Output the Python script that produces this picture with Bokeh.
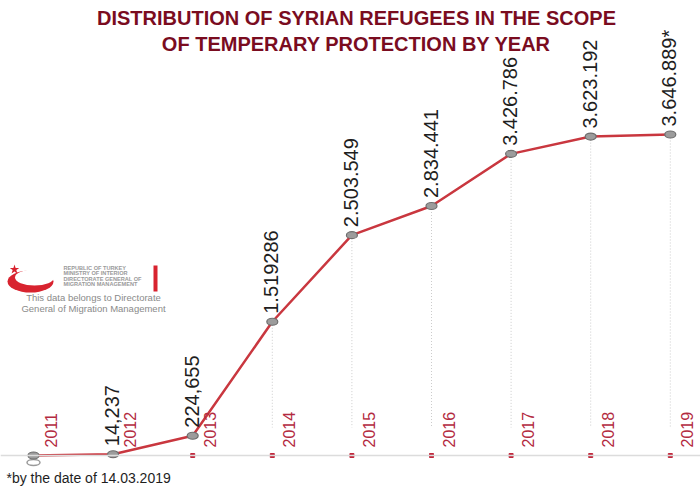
import math
from bokeh.plotting import figure
from bokeh.models import Range1d, ColumnDataSource, Span
from bokeh.core.properties import value
from bokeh.embed import file_html
from bokeh.resources import INLINE

# ---- data ----
years = [2011, 2012, 2013, 2014, 2015, 2016, 2017, 2018, 2019]
refugees = [0, 14237, 224655, 1519286, 2503549, 2834441, 3426786, 3623192, 3646889]
value_labels = ["", "14,237", "224,655", "1.519286", "2.503.549", "2.834.441",
                "3.426.786", "3.623.192", "3.646.889*"]
year_labels = [str(y) for y in years]
title_lines = ["DISTRIBUTION OF SYRIAN REFUGEES IN THE SCOPE",
               "OF TEMPERARY PROTECTION BY YEAR"]
footnote = "*by the date of 14.03.2019"
logo_small = ["REPUBLIC OF TURKEY", "MINISTRY OF INTERIOR",
              "DIRECTORATE GENERAL OF", "MIGRATION MANAGEMENT"]
logo_note = ["This data belongs to Directorate", "General of Migration Management"]

W, H = 700, 491
# layout: baseline pixel and top-of-data pixel
BASE_PX, TOP_PX = 455, 134
X0_PX, STEP_PX = 33, 79.6
k = max(refugees) / (BASE_PX - TOP_PX)
x_start = years[0] - X0_PX / STEP_PX
x_end = years[0] + (W - X0_PX) / STEP_PX
y_start = -(H - BASE_PX) * k
y_end = BASE_PX * k


def dx(px):
    return x_start + px / W * (x_end - x_start)


def dy(py):
    return y_end - py / H * (y_end - y_start)


p = figure(width=W, height=H, x_range=Range1d(x_start, x_end),
           y_range=Range1d(y_start, y_end), output_backend="svg",
           toolbar_location=None, min_border=0)
p.axis.visible = False
p.grid.visible = False
p.outline_line_color = None
p.background_fill_color = "white"

# baseline
p.add_layout(Span(location=0, dimension="width", line_color="#dcdcdc", line_width=1.5))

# vertical dotted guides from points down to above year labels
guide_bottom = dy(427)
gx = [x for x, v in zip(years, refugees) if v > guide_bottom]
gy = [v for v in refugees if v > guide_bottom]
p.segment(x0=gx, y0=gy, x1=gx, y1=[guide_bottom] * len(gx),
          line_color="#cccccc", line_width=1, line_dash="1 2")

# small red ticks on baseline
p.scatter(x=years[1:], y=[0] * (len(years) - 1), marker="square", size=4,
          fill_color="#c0283c", line_color="#c0283c")
# shadow ellipse under 2011
p.ellipse(x=[years[0]], y=[dy(462)], width=13, height=6, width_units="screen",
          height_units="screen", fill_color=None, line_color="#9a9a9a", line_width=1.5)

src = ColumnDataSource(dict(x=years, y=refugees, lab=value_labels, yl=year_labels,
                            zero=[0] * len(years)))

p.line("x", "y", source=src, line_color="#c9373f", line_width=2.5)
p.ellipse("x", "y", source=src, width=11, height=7, width_units="screen",
          height_units="screen", fill_color="#9c9c9c", line_color="#6e6e6e", line_width=1.2)

# value labels
p.text("x", "y", text="lab", source=src, angle=math.pi / 2, y_offset=-8, x_offset=-1,
       text_align="left", text_baseline="middle", text_font=value("Liberation Sans"),
       text_font_size="20px", text_color="#1e1e1e")

# year labels
p.text("x", "zero", text="yl", source=src, angle=math.pi / 2, y_offset=-8, x_offset=17,
       text_align="left", text_baseline="middle", text_font=value("Liberation Sans"),
       text_font_size="16px", text_color="#b32a40")

# title
p.text(x=[dx(356), dx(356)], y=[dy(17), dy(43)], text=title_lines,
       text_align="center", text_baseline="middle",
       text_font=value("Liberation Sans"), text_font_style="bold",
       text_font_size="20px", text_color="#7a0c1f")

# footnote
p.text(x=[dx(6)], y=[dy(477)], text=[footnote], text_align="left",
       text_baseline="middle", text_font=value("Liberation Sans"),
       text_font_size="14px", text_color="#1e1e1e")

# ---- logo ----
p.ellipse(x=[dx(30)], y=[dy(281)], width=46, height=22, width_units="screen",
          height_units="screen", fill_color="#d8232f", line_color=None)
p.ellipse(x=[dx(34)], y=[dy(277)], width=39, height=16, width_units="screen",
          height_units="screen", fill_color="white", line_color=None)
p.scatter(x=[dx(14)], y=[dy(269)], marker="star", size=10,
          fill_color="#d8232f", line_color=None)
p.text(x=[dx(63)] * 4, y=[dy(267 + i * 5.6) for i in range(4)], text=logo_small,
       text_align="left", text_baseline="middle", text_font=value("Liberation Sans"),
       text_font_style="bold", text_font_size="5.6px", text_color="#9a9a9a")
p.quad(left=[dx(153)], right=[dx(157)], top=[dy(265)], bottom=[dy(291)],
       fill_color="#d8232f", line_color=None)
p.text(x=[dx(93), dx(93)], y=[dy(297), dy(308)], text=logo_note,
       text_align="center", text_baseline="middle", text_font=value("Liberation Sans"),
       text_font_size="9.5px", text_color="#8a8a8a")

open("out.html", "w").write(file_html(p, INLINE))
